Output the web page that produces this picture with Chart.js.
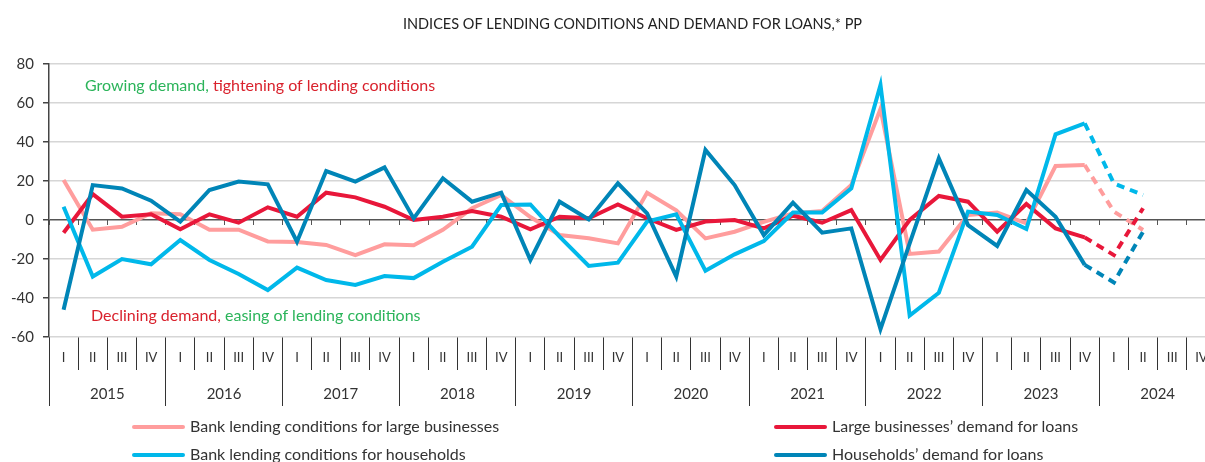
<!DOCTYPE html>
<html>
<head>
    <title>Indices of lending conditions and demand for loans</title>
    <script src="https://cdn.jsdelivr.net/npm/chart.js"></script>
    <style>
        body {
            margin: 0;
            background: #fff;
            overflow: hidden;
            font-family: 'Lato', sans-serif;
        }

        .wrap {
            position: relative;
            width: 1230px;
            height: 462px;
        }

        .legend-item {
            position: absolute;
            font-size: 16px;
            color: #333;
            white-space: nowrap;
            line-height: 18px;
        }

        .legend-item span.swatch {
            display: inline-block;
            width: 53px;
            height: 4px;
            border-radius: 2px;
            vertical-align: middle;
            margin-right: 5px;
            position: relative;
            top: -1px;
        }
    </style>
</head>
<body>
<div class="wrap">
    <canvas id="lendingChart" width="1230" height="462"></canvas>
    <div class="legend-item" style="left:132px; top:417px;"><span class="swatch" style="background:#ff9d9d"></span>Bank lending conditions for large businesses</div>
    <div class="legend-item" style="left:132px; top:445px;"><span class="swatch" style="background:#00b8ea"></span>Bank lending conditions for households</div>
    <div class="legend-item" style="left:774px; top:417px;"><span class="swatch" style="background:#e8173a"></span>Large businesses’ demand for loans</div>
    <div class="legend-item" style="left:774px; top:445px;"><span class="swatch" style="background:#0085b7"></span>Households’ demand for loans</div>
</div>

<script>
    // quarters 2015 I .. 2024 IV
    const years = ['2015', '2016', '2017', '2018', '2019', '2020', '2021', '2022', '2023', '2024'];
    const quarters = years.flatMap(() => ['I', 'II', 'III', 'IV']);

    // 2015 I .. 2024 II, the last two quarters are expectations (dashed)
    const condBusiness = [20.5, -5, -3.5, 3.5, 3, -5, -5, -11, -11.3, -12.8, -18, -12.5,
        -13, -5, 6, 12.8, 1.5, -7.7, -9.4, -12, 14, 5, -9.4, -6, -1, 3.4,
        4.6, 18, 57, -17.4, -16.2, 2.6, 3.8, -1.7, 27.7, 28.2, 4.3, -5.1];
    const demandBusiness = [-6.5, 13.3, 1.7, 2.9, -4.8, 2.9, -1.4, 6.5, 1.7, 14, 11.6, 6.8,
        0, 1.7, 4.6, 1.7, -4.8, 1.7, 0.9, 8, 0.9, -5.1, -0.8, 0, -4.3, 2.2,
        -1.4, 5.1, -20.5, 0, 12.3, 9.4, -6, 8.2, -4.3, -8.9, -18, 6];
    const condHouseholds = [6.8, -29, -20, -22.7, -10.3, -20.5, -27.7, -35.9, -24.4, -30.8, -33.3, -28.7,
        -29.8, -21.4, -13.7, 7.7, 8, -8.5, -23.6, -21.9, -0.8, 2.9, -26, -17.6, -10.8, 3.8,
        3.8, 16.2, 69.2, -49, -37.3, 4.3, 2.6, -4.6, 43.9, 49.6, 18.8, 12.8];
    const demandHouseholds = [-46, 17.9, 16.2, 9.9, -0.8, 15.4, 19.7, 18.3, -11.1, 25.1, 19.7, 27,
        0.8, 21.4, 9.4, 14, -20.5, 9.4, 0.3, 18.8, 3.4, -29, 35.9, 17.9, -7.7, 8.9,
        -6.5, -4.3, -56, -12, 31.6, -2.6, -13.3, 15.4, 1.7, -23, -32, -6];
    const yTicks = [80, 60, 40, 20, 0, -20, -40, -60];

    const firstForecast = 35; // segment starting at 2023 IV is dashed

    const fontFamily = "'Lato', sans-serif";

    function series(label, data, color, order) {
        return {
            label: label,
            data: data,
            borderColor: color,
            backgroundColor: color,
            borderWidth: 4,
            pointRadius: 0,
            tension: 0,
            order: order,
            borderCapStyle: 'butt',
            borderJoinStyle: 'miter',
            segment: {
                borderDash: ctx => ctx.p0DataIndex >= firstForecast ? [8, 6] : undefined
            }
        };
    }

    // title and the two notes inside the plot
    const notesPlugin = {
        id: 'notes',
        afterDraw(chart) {
            const { ctx, chartArea } = chart;
            ctx.save();
            ctx.textBaseline = 'middle';

            ctx.font = `14.5px ${fontFamily}`;
            ctx.fillStyle = '#222';
            ctx.textAlign = 'center';
            ctx.fillText('INDICES OF LENDING CONDITIONS AND DEMAND FOR LOANS,* PP',
                (chartArea.left + chartArea.right) / 2, 24);

            ctx.textAlign = 'left';
            ctx.font = `16px ${fontFamily}`;
            const green = '#2bb45a';
            const red = '#d9222d';

            let x = chartArea.left + 36;
            let t = 'Growing demand, ';
            ctx.fillStyle = green;
            ctx.fillText(t, x, 86);
            x += ctx.measureText(t).width;
            ctx.fillStyle = red;
            ctx.fillText('tightening of lending conditions', x, 86);

            x = chartArea.left + 42;
            t = 'Declining demand, ';
            ctx.fillStyle = red;
            ctx.fillText(t, x, 316);
            x += ctx.measureText(t).width;
            ctx.fillStyle = green;
            ctx.fillText('easing of lending conditions', x, 316);
            ctx.restore();
        }
    };

    const ctx = document.getElementById('lendingChart').getContext('2d');

    new Chart(ctx, {
        type: 'line',
        data: {
            labels: quarters,
            datasets: [
                series('Bank lending conditions for large businesses', condBusiness, '#ff9d9d', 4),
                series('Large businesses’ demand for loans', demandBusiness, '#e8173a', 3),
                series('Bank lending conditions for households', condHouseholds, '#00b8ea', 2),
                series('Households’ demand for loans', demandHouseholds, '#0085b7', 1)
            ]
        },
        options: {
            responsive: false,
            animation: false,
            layout: {
                padding: { top: 64, right: 14, bottom: 56, left: 0 }
            },
            plugins: {
                legend: { display: false },
                tooltip: { enabled: false },
                title: { display: false }
            },
            scales: {
                x: {
                    type: 'category',
                    offset: true,
                    grid: {
                        offset: true,
                        drawOnChartArea: false,
                        tickLength: 33,
                        color: '#333',
                        lineWidth: 1
                    },
                    border: { display: false },
                    ticks: {
                        autoSkip: false,
                        maxRotation: 0,
                        padding: -20,
                        color: '#333',
                        font: { family: fontFamily, size: 13 }
                    },
                    afterFit: scale => { scale.height = 33; }
                },
                x2: {
                    type: 'category',
                    labels: years,
                    position: 'bottom',
                    offset: true,
                    grid: {
                        offset: true,
                        drawOnChartArea: false,
                        tickLength: 36,
                        color: '#333',
                        lineWidth: 1
                    },
                    border: { display: false },
                    ticks: {
                        autoSkip: false,
                        maxRotation: 0,
                        padding: -21,
                        color: '#333',
                        font: { family: fontFamily, size: 15 }
                    },
                    afterFit: scale => { scale.height = 36; }
                },
                x3: {
                    type: 'category',
                    labels: quarters,
                    position: { y: 0 },
                    offset: true,
                    grid: {
                        offset: true,
                        drawOnChartArea: false,
                        tickLength: 5,
                        color: '#555',
                        lineWidth: 1
                    },
                    border: { display: false },
                    ticks: { display: false }
                },
                y: {
                    min: -60,
                    max: 80,
                    afterBuildTicks: scale => {
                        scale.ticks = yTicks.map(v => ({ value: v }));
                    },
                    grid: {
                        color: c => c.tick && c.tick.value === 0 ? '#555' : '#d6d6d6',
                        lineWidth: 1.5,
                        tickColor: '#444',
                        tickLength: 6
                    },
                    border: { display: true, color: '#444', width: 1.5 },
                    ticks: {
                        padding: 9,
                        color: '#333',
                        font: { family: fontFamily, size: 15 }
                    },
                    afterFit: scale => { scale.width = 49; }
                }
            }
        },
        plugins: [notesPlugin]
    });
</script>
</body>
</html>
